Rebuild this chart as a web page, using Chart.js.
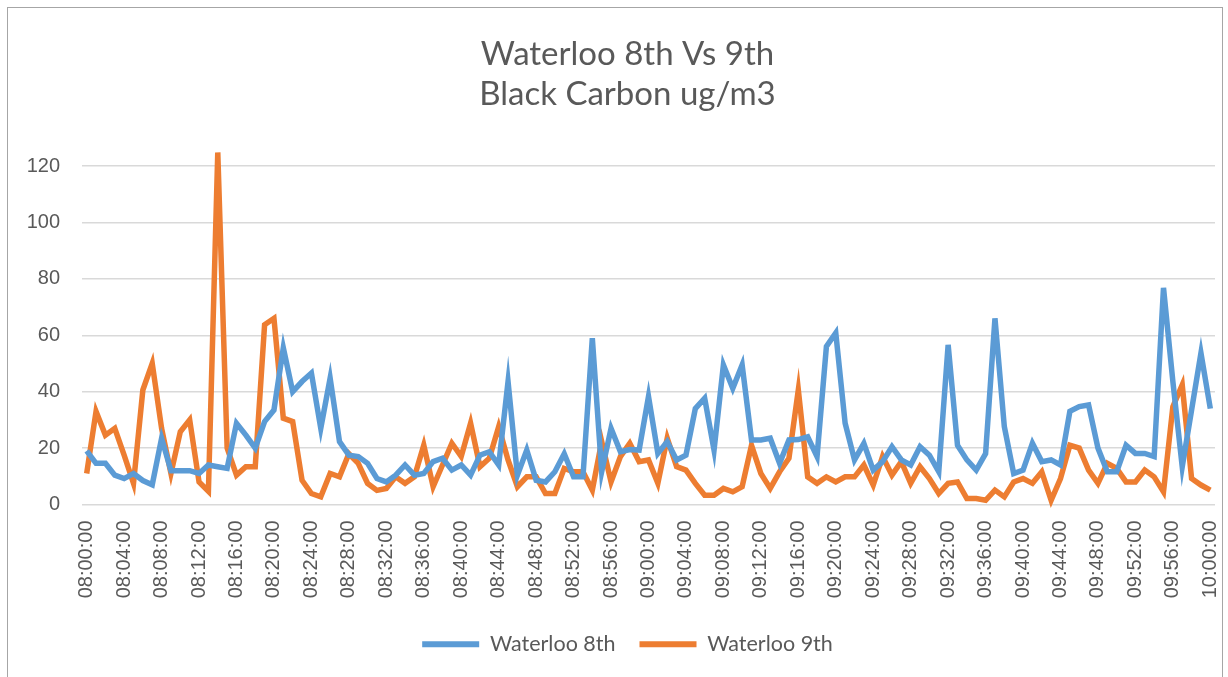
<!DOCTYPE html>
<html>
<head>
<meta charset="utf-8">
<script src="https://cdn.jsdelivr.net/npm/chart.js@4"></script>
<style>
  html, body { margin: 0; padding: 0; background: #ffffff; }
  #wrap { position: relative; width: 1228px; height: 677px; overflow: hidden; }
  #frame { position: absolute; left: 7px; top: 7px; width: 1214px; height: 700px;
           border: 1.5px solid #a6a6a6; pointer-events: none; }
  canvas { position: absolute; left: 0; top: 0; }
</style>
</head>
<body>
<div id="wrap">
  <canvas id="c" width="1228" height="677"></canvas>
  <div id="frame"></div>
</div>
<script>
const titleLines = ['Waterloo 8th Vs 9th', 'Black Carbon ug/m3'];
const seriesNames = ['Waterloo 8th', 'Waterloo 9th'];

const times = [
 '08:00:00','08:01:00','08:02:00','08:03:00','08:04:00','08:05:00','08:06:00','08:07:00','08:08:00','08:09:00',
 '08:10:00','08:11:00','08:12:00','08:13:00','08:14:00','08:15:00','08:16:00','08:17:00','08:18:00','08:19:00',
 '08:20:00','08:21:00','08:22:00','08:23:00','08:24:00','08:25:00','08:26:00','08:27:00','08:28:00','08:29:00',
 '08:30:00','08:31:00','08:32:00','08:33:00','08:34:00','08:35:00','08:36:00','08:37:00','08:38:00','08:39:00',
 '08:40:00','08:41:00','08:42:00','08:43:00','08:44:00','08:45:00','08:46:00','08:47:00','08:48:00','08:49:00',
 '08:50:00','08:51:00','08:52:00','08:53:00','08:54:00','08:55:00','08:56:00','08:57:00','08:58:00','08:59:00',
 '09:00:00','09:01:00','09:02:00','09:03:00','09:04:00','09:05:00','09:06:00','09:07:00','09:08:00','09:09:00',
 '09:10:00','09:11:00','09:12:00','09:13:00','09:14:00','09:15:00','09:16:00','09:17:00','09:18:00','09:19:00',
 '09:20:00','09:21:00','09:22:00','09:23:00','09:24:00','09:25:00','09:26:00','09:27:00','09:28:00','09:29:00',
 '09:30:00','09:31:00','09:32:00','09:33:00','09:34:00','09:35:00','09:36:00','09:37:00','09:38:00','09:39:00',
 '09:40:00','09:41:00','09:42:00','09:43:00','09:44:00','09:45:00','09:46:00','09:47:00','09:48:00','09:49:00',
 '09:50:00','09:51:00','09:52:00','09:53:00','09:54:00','09:55:00','09:56:00','09:57:00','09:58:00','09:59:00',
 '10:00:00'
];

const waterloo8th = [
 19, 14.6, 14.6, 10.4, 9.2, 11, 8.5, 7, 23.5, 12,
 12, 12, 11, 14, 13.4, 12.8, 28.8, 24.6, 20, 29.4,
 33.5, 55.5, 40, 43.6, 46.6, 27, 44.8, 22.3, 17.5, 17,
 14.6, 9.2, 8, 10.4, 14, 10.4, 11, 15.2, 16.4, 12.2,
 14, 10.4, 17.5, 18.7, 14, 43.6, 10.4, 19.3, 8.6, 8,
 11.6, 18, 9.8, 9.8, 59, 11.6, 27, 18.7, 19.5, 19.3,
 38.3, 18.1, 22.3, 15.8, 17.5, 34, 37.7, 19.3, 49.5, 41.2,
 49.5, 22.9, 22.9, 23.5, 14.6, 22.9, 23, 24, 17, 56,
 60.8, 28.8, 15.8, 21.7, 12.2, 15.2, 20.5, 15.8, 14, 20.5,
 17.5, 11.6, 56.6, 21, 15.8, 12.2, 18, 66, 27.6, 11,
 12.2, 21.7, 15.2, 15.8, 14, 33, 34.7, 35.3, 20, 11.6,
 11.6, 21, 18.1, 18.1, 17, 76.8, 43.6, 13.4, 33.5, 53.7,
 34
];

const waterloo9th = [
 11, 33, 24.6, 27, 17.5, 7.5, 40.6, 50, 27, 11,
 25.8, 30, 8, 4.7, 124.8, 20, 10.4, 13.4, 13.4, 63.7,
 66, 30.6, 29.4, 8.6, 3.9, 2.7, 11, 9.8, 18, 14.6,
 7.5, 5, 5.7, 9.8, 7.5, 9.8, 21, 6.3, 14, 21.7,
 17, 28.8, 13.4, 16.4, 27.6, 15.8, 6.3, 9.8, 9.8, 3.9,
 3.9, 12.8, 11.6, 11.6, 5.1, 22.3, 8, 17, 21.7, 15.2,
 15.8, 7.5, 23.5, 13.4, 12.2, 7.5, 3.3, 3.3, 5.7, 4.5,
 6.3, 21, 11, 5.7, 11.6, 16.4, 40.6, 9.8, 7.5, 9.8,
 8, 9.8, 9.8, 14, 6.9, 17, 10.4, 15.2, 7.5, 13.4,
 9.2, 3.9, 7.5, 8, 2.1, 2.1, 1.5, 5.1, 2.7, 8,
 9.2, 7.5, 11.6, 1.5, 9.2, 21, 20, 12.2, 7.5, 14.6,
 12.8, 8, 8, 12.2, 9.8, 4.5, 34.7, 42.4, 9.2, 6.9,
 5.1
];

const yTicks = [0, 20, 40, 60, 80, 100, 120];
const blue = '#5B9BD5';
const orange = '#ED7D31';
const textGray = '#595959';
const gridGray = '#d9d9d9';

new Chart(document.getElementById('c'), {
  type: 'line',
  data: {
    labels: times,
    datasets: [
      { label: seriesNames[0], data: waterloo8th, borderColor: blue, backgroundColor: blue,
        borderWidth: 5.5, pointRadius: 0, tension: 0, clip: false },
      { label: seriesNames[1], data: waterloo9th, borderColor: orange, backgroundColor: orange,
        borderWidth: 5.5, pointRadius: 0, tension: 0, clip: false }
    ]
  },
  options: {
    responsive: false,
    animation: false,
    layout: { padding: { left: 40, right: 13, top: 0, bottom: 12 } },
    plugins: {
      title: {
        display: true,
        text: titleLines,
        color: textGray,
        font: { family: 'Lato', size: 33, weight: 'normal', lineHeight: 40 / 33 },
        padding: { top: 34, bottom: 52 }
      },
      legend: {
        position: 'bottom',
        labels: {
          color: textGray,
          font: { family: 'Lato', size: 21.5 },
          boxWidth: 57,
          boxHeight: 6,
          padding: 24,
          generateLabels: (chart) => {
            const items = Chart.defaults.plugins.legend.labels.generateLabels(chart);
            items.forEach(it => { it.lineWidth = 0; });
            return items;
          }
        }
      },
      tooltip: { enabled: false }
    },
    scales: {
      x: {
        type: 'category',
        offset: true,
        grid: { display: false, drawTicks: false },
        border: { display: false },
        ticks: {
          autoSkip: false,
          maxRotation: 90,
          minRotation: 90,
          padding: 16,
          color: textGray,
          font: { family: 'Liberation Sans', size: 20 },
          callback: function (value, index) {
            return index % 4 === 0 ? times[index] : null;
          }
        },
        afterFit: (scale) => {
          scale.height = 105;
          scale.paddingLeft = 0;
          scale.paddingRight = 0;
        }
      },
      y: {
        min: 0,
        max: 120,
        afterBuildTicks: (scale) => { scale.ticks = yTicks.map(v => ({ value: v })); },
        afterFit: (scale) => {
          scale.width = 42;
          scale._computeLabelArea = () => undefined;
        },
        grid: { color: gridGray, lineWidth: 1.5, drawTicks: false },
        border: { display: false },
        ticks: {
          padding: 22,
          color: textGray,
          font: { family: 'Liberation Sans', size: 20 }
        }
      }
    }
  }
});
</script>
</body>
</html>
